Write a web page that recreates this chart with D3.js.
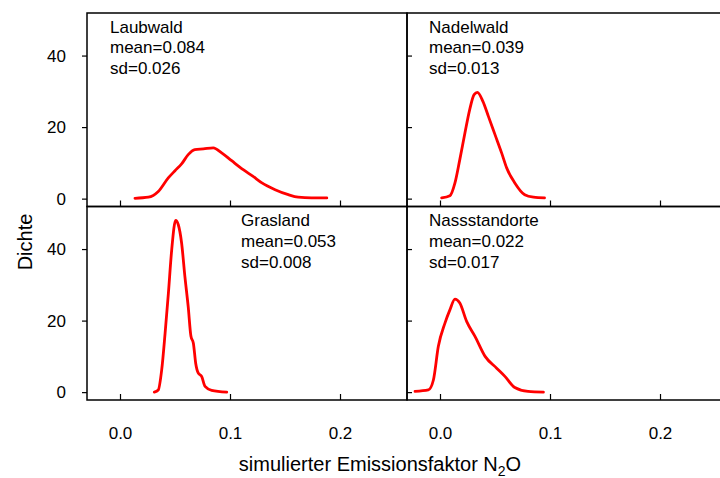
<!DOCTYPE html>
<html>
<head>
<meta charset="utf-8">
<script src="https://cdn.jsdelivr.net/npm/d3@7/dist/d3.min.js"></script>
<style>
  body { margin: 0; background: #fff; }
  text { font-family: "Liberation Sans", Arial, sans-serif; fill: #000; }
</style>
</head>
<body>
<div class="chart"></div>
<script>
// Data
const groups = ["Laubwald", "Nadelwald", "Grasland", "Nassstandorte"];
const means = [0.084, 0.039, 0.053, 0.022];
const sds = [0.026, 0.013, 0.008, 0.017];

const xTicks = [0.0, 0.1, 0.2];
const yTicks = [0, 20, 40];

// density curves: [emission factor, density]
const laubwald = [
    [0.0136, 0.1], [0.0258, 0.4], [0.0348, 2.0], [0.0439, 5.8], [0.050, 7.8],
    [0.056, 9.7], [0.062, 12.3], [0.068, 13.7], [0.0758, 13.9], [0.0848, 14.2],
    [0.0924, 12.8], [0.1015, 10.6], [0.112, 8.1], [0.121, 6.2], [0.129, 4.4],
    [0.141, 2.5], [0.153, 1.1], [0.162, 0.4], [0.174, 0.2], [0.188, 0.2]
];
const nadelwald = [
    [0.0015, 0.2], [0.009, 0.8], [0.0136, 4.4], [0.018, 10.9], [0.0227, 18.4],
    [0.027, 24.9], [0.031, 29.1], [0.034, 29.7], [0.039, 27.2], [0.044, 23.0],
    [0.050, 17.9], [0.056, 12.8], [0.0606, 8.6], [0.068, 4.4], [0.077, 1.1],
    [0.085, 0.4], [0.095, 0.2]
];
const grasland = [
    [0.0312, 0.0], [0.0348, 0.6], [0.0379, 6.2], [0.041, 16.5], [0.044, 27.7],
    [0.047, 39.8], [0.0506, 48.0], [0.053, 46.8], [0.056, 41.7], [0.059, 32.3],
    [0.062, 23.9], [0.0645, 15.6], [0.0667, 13.7], [0.0688, 8.1], [0.0712, 5.3],
    [0.0742, 4.4], [0.0773, 1.6], [0.0833, 0.5], [0.097, 0.0]
];
const nassstandorte = [
    [-0.0227, 0.2], [-0.0106, 0.6], [-0.006, 3.4], [-0.0015, 12.8], [0.0045, 19.3],
    [0.009, 23.0], [0.0136, 26.0], [0.018, 24.9], [0.0243, 19.7], [0.0318, 15.6],
    [0.041, 10.0], [0.0515, 6.7], [0.059, 4.4], [0.068, 1.3], [0.080, 0.2],
    [0.094, 0.0]
];
const curves = [laubwald, nadelwald, grasland, nassstandorte];

// Layout
const width = 720, height = 478;
const marginLeft = 87, marginTop = 13;
const panelW = 320, panelH = 193.5;
// where the label block sits inside each panel
const labelX = [23, 22, 154, 22];

const svg = d3.select('.chart')
    .append('svg')
    .attr('width', width)
    .attr('height', height);

const x = d3.scaleLinear().domain([-0.03, 0.2609]).range([0, panelW]);
const y = d3.scaleLinear().domain([-2.2, 51.9]).range([panelH, 0]);

const line = d3.line()
    .x(d => x(d[0]))
    .y(d => y(d[1]))
    .curve(d3.curveMonotoneX);

groups.forEach((name, i) => {
    const col = i % 2, row = Math.floor(i / 2);
    const g = svg.append('g')
        .attr('transform', `translate(${marginLeft + col * panelW}, ${marginTop + row * panelH})`);

    // x ticks (inside), labels only on the bottom row
    const xAxis = d3.axisBottom(x)
        .tickValues(xTicks)
        .tickSizeInner(-6)
        .tickSizeOuter(0)
        .tickPadding(27)
        .tickFormat(d3.format('.1f'));
    const xg = g.append('g')
        .attr('transform', `translate(0, ${panelH})`)
        .call(xAxis);
    xg.select('.domain').remove();
    xg.selectAll('line').attr('stroke', '#000').attr('stroke-width', 1.2);
    xg.selectAll('text')
        .style('font-size', '17px')
        .style('font-family', '"Liberation Sans", Arial, sans-serif')
        .attr('visibility', row === 1 ? 'visible' : 'hidden');

    // y ticks: outside with labels on the left column, inside on the right column
    const yAxis = col === 0
        ? d3.axisLeft(y).tickValues(yTicks).tickSizeInner(5).tickSizeOuter(0).tickPadding(16)
        : d3.axisRight(y).tickValues(yTicks).tickSizeInner(5).tickSizeOuter(0).tickFormat('');
    const yg = g.append('g').call(yAxis);
    yg.select('.domain').remove();
    yg.selectAll('line').attr('stroke', '#000').attr('stroke-width', 1.2);
    yg.selectAll('text')
        .style('font-size', '17px')
        .style('font-family', '"Liberation Sans", Arial, sans-serif');

    // panel frame
    g.append('rect')
        .attr('width', panelW)
        .attr('height', panelH)
        .attr('fill', 'none')
        .attr('stroke', '#000')
        .attr('stroke-width', 1.5);

    // density curve
    g.append('path')
        .datum(curves[i])
        .attr('d', line)
        .attr('fill', 'none')
        .attr('stroke', '#ff0000')
        .attr('stroke-width', 2.8)
        .attr('stroke-linejoin', 'round')
        .attr('stroke-linecap', 'round');

    // label block
    const lines = [name, 'mean=' + d3.format('.3f')(means[i]), 'sd=' + d3.format('.3f')(sds[i])];
    g.selectAll('text.lab')
        .data(lines)
        .join('text')
        .attr('class', 'lab')
        .attr('x', labelX[i])
        .attr('y', (d, j) => 19.5 + j * 20.8)
        .style('font-size', '17px')
        .text(d => d);
});

// axis titles
svg.append('text')
    .attr('transform', `translate(32, 242) rotate(-90)`)
    .attr('text-anchor', 'middle')
    .style('font-size', '20px')
    .text('Dichte');

const title = svg.append('text')
    .attr('x', 380)
    .attr('y', 471)
    .attr('text-anchor', 'middle')
    .style('font-size', '20px');
title.append('tspan').text('simulierter Emissionsfaktor N');
title.append('tspan').attr('dy', 5).style('font-size', '14px').text('2');
title.append('tspan').attr('dy', -5).text('O');
</script>
</body>
</html>
